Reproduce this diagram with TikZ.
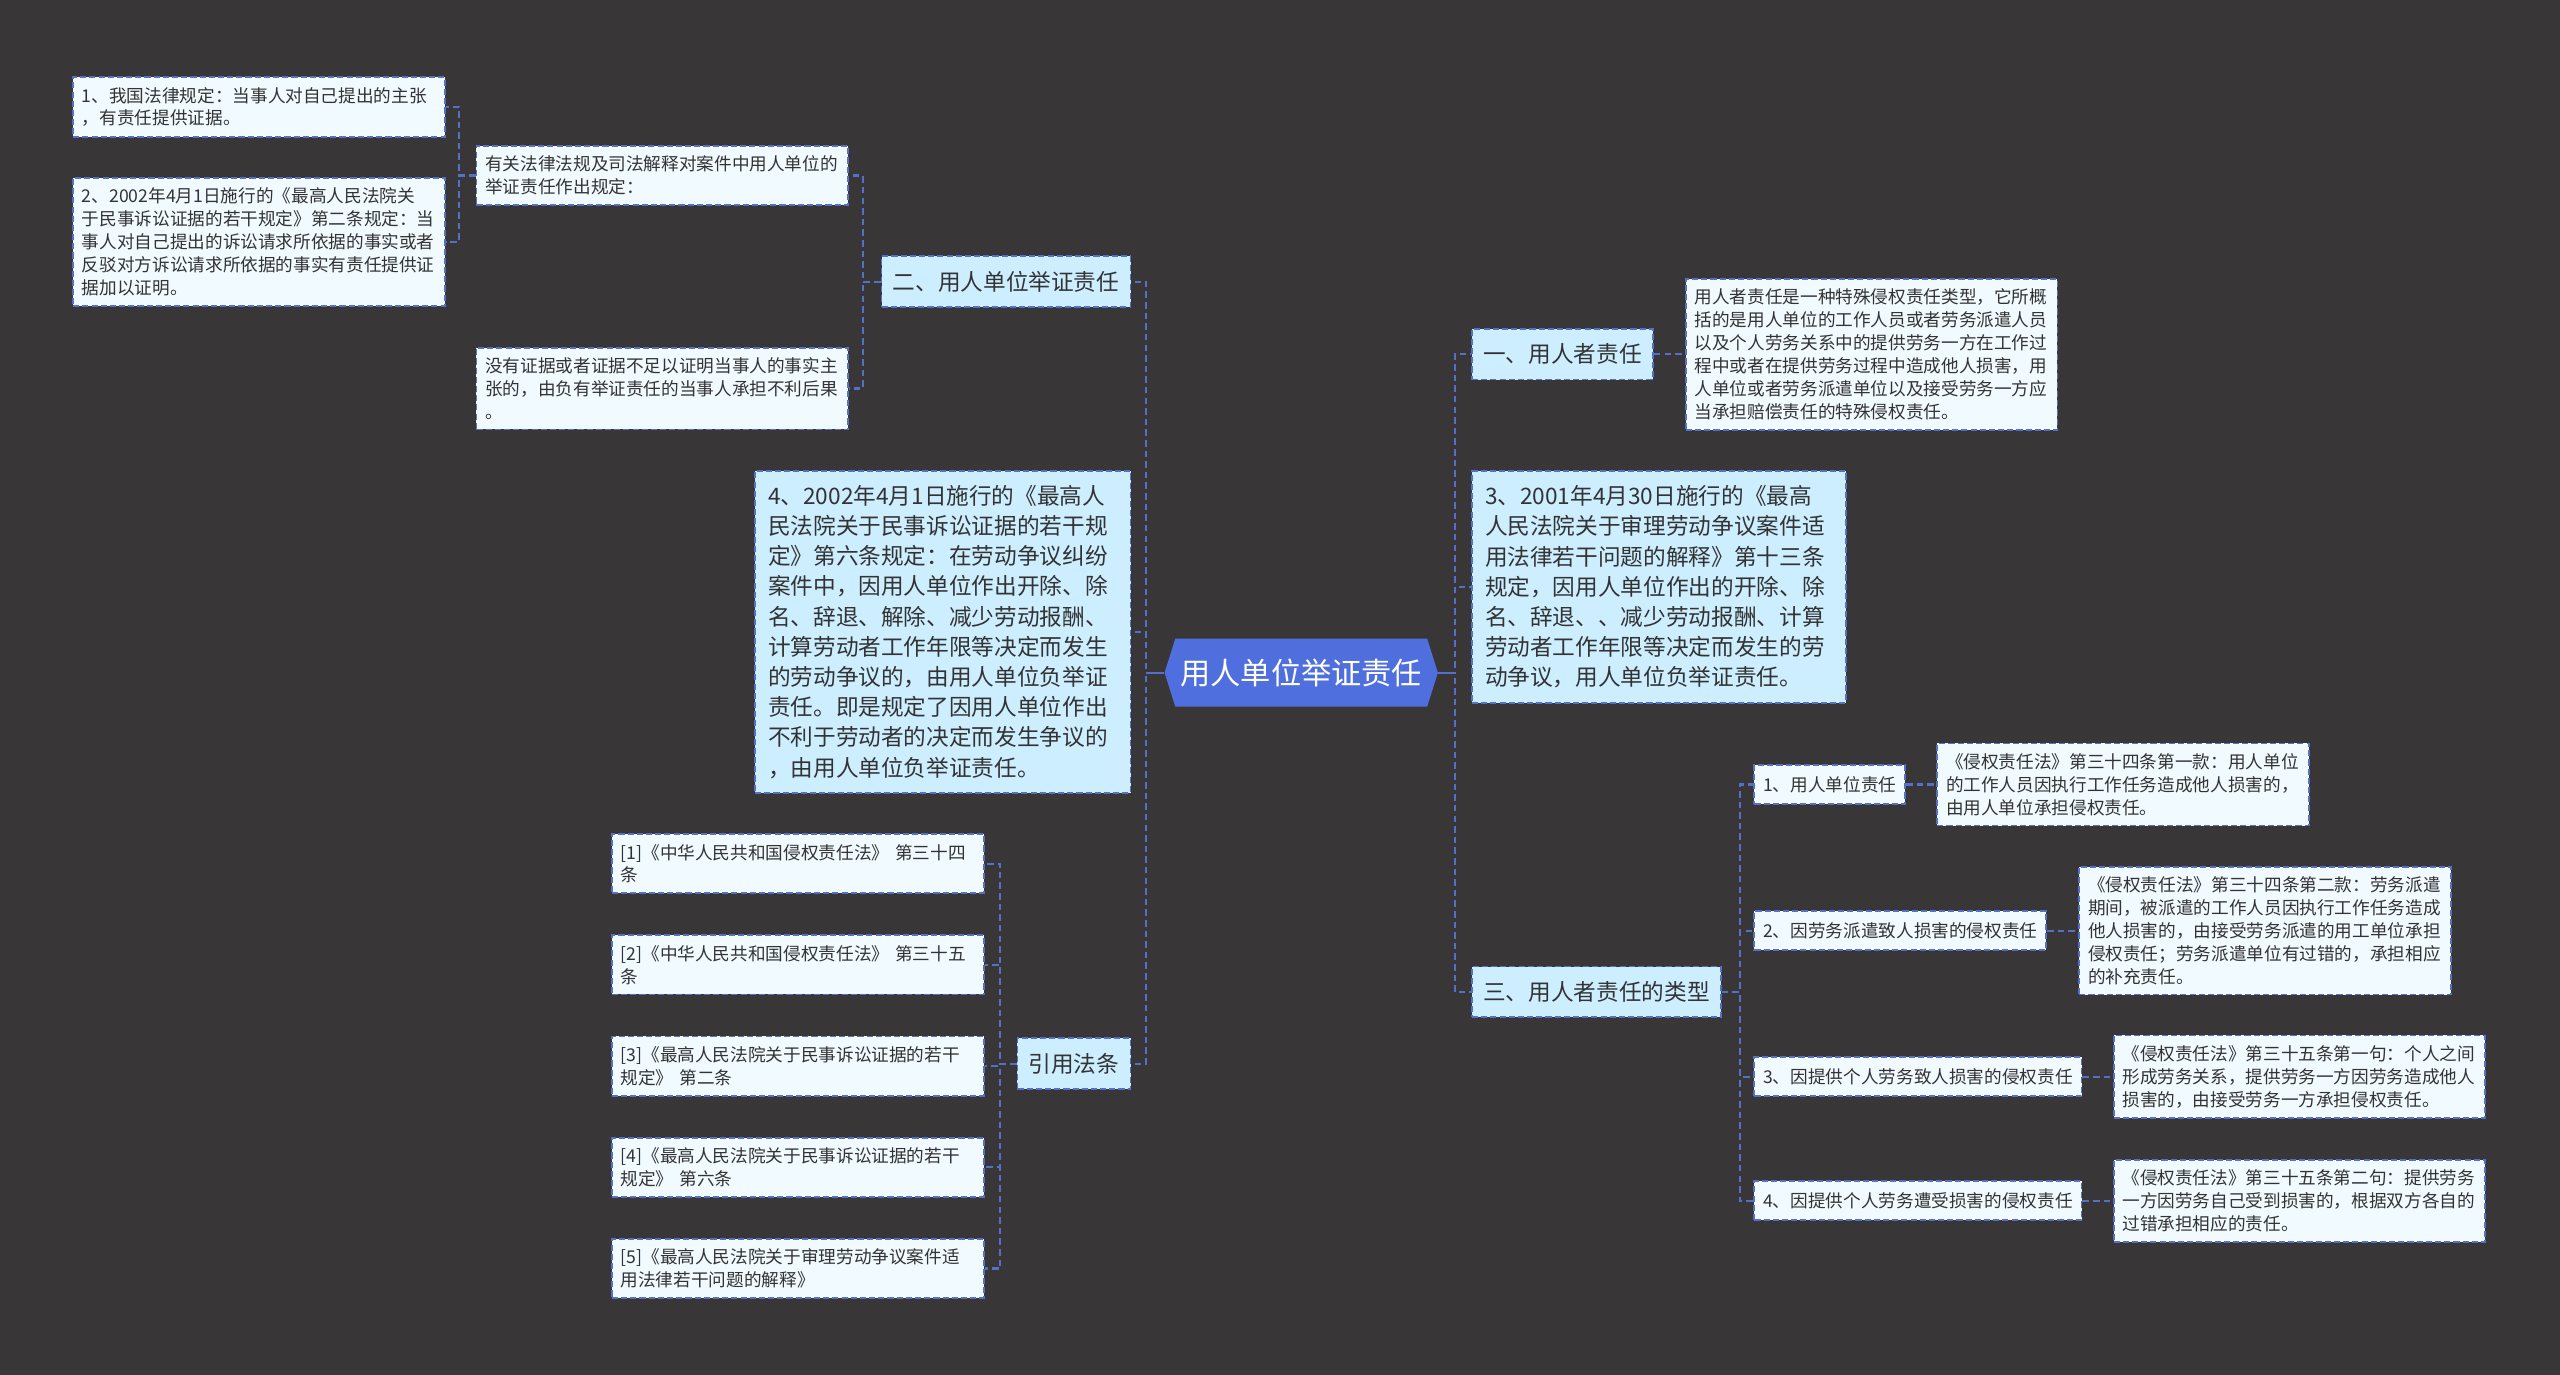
\documentclass[tikz,border=0pt]{standalone}
\usepackage{fontspec}
\setmainfont{Noto Sans CJK SC}
\usetikzlibrary{shapes.symbols}
\definecolor{bgc}{RGB}{57,54,55}
\definecolor{lineblue}{RGB}{84,112,200}
\definecolor{rootblue}{RGB}{79,111,222}
\definecolor{skyblue}{RGB}{204,238,255}
\definecolor{paleblue}{RGB}{240,250,255}
\definecolor{txt}{RGB}{51,51,51}
\begin{document}
\begin{tikzpicture}[
  x=0.8pt, y=-0.8pt,
  every node/.style={inner sep=0pt},
  line/.style={draw=lineblue, line width=1.1pt, dash pattern=on 3.2pt off 2pt},
  box/.style={draw=lineblue, line width=0.9pt, dash pattern=on 3pt off 1.5pt, text=txt},
  root/.style={signal, signal to=west and east, signal pointer angle=145,
    fill=rootblue, text=white, font=\fontsize{14.8pt}{16pt}\selectfont,
    inner xsep=2.5pt, inner ysep=9.8pt},
  hd/.style={box, fill=skyblue, font=\fontsize{11.1pt}{14.8pt}\selectfont,
    inner xsep=5.5pt, inner ysep=7.25pt},
  para/.style={hd, text width=#1, align=left, inner xsep=6.4pt, inner ysep=7pt},
  kid/.style={box, fill=paleblue, font=\fontsize{8.64pt}{11.2pt}\selectfont,
    inner xsep=4.3pt, inner ysep=5.5pt},
  fact/.style={box, fill=paleblue, font=\fontsize{8.64pt}{11.2pt}\selectfont,
    text width=173.5pt, align=left, inner xsep=4.3pt, inner ysep=4.9pt},
  fork/.style={to path={-- ++(#1,0) |- (\tikztotarget)}}
]
\path[use as bounding box, fill=bgc] (0,0) rectangle (1568,842);

\node[root] (R) at (797,412) {用人单位举证责任};

\node[hd, anchor=west] (A) at (901,217) {一、用人者责任};
\node[fact, anchor=west] (Aa) at (1032,217)
{用人者责任是一种特殊侵权责任类型，它所概\\括的是用人单位的工作人员或者劳务派遣人员\\以及个人劳务关系中的提供劳务一方在工作过\\程中或者在提供劳务过程中造成他人损害，用\\人单位或者劳务派遣单位以及接受劳务一方应\\当承担赔偿责任的特殊侵权责任。};
\node[para=170.4pt, anchor=west] (B) at (901,359.5)
{3、2001年4月30日施行的《最高\\人民法院关于审理劳动争议案件适\\用法律若干问题的解释》第十三条\\规定，因用人单位作出的开除、除\\名、辞退、、减少劳动报酬、计算\\劳动者工作年限等决定而发生的劳\\动争议，用人单位负举证责任。};
\node[hd, anchor=west] (T) at (901,607.5) {三、用人者责任的类型};

\node[kid, anchor=west] (T1) at (1074,480.5) {1、用人单位责任};
\node[fact, anchor=west] (T1a) at (1186,480.5)
{《侵权责任法》第三十四条第一款：用人单位\\的工作人员因执行工作任务造成他人损害的，\\由用人单位承担侵权责任。};
\node[kid, anchor=west] (T2) at (1074,570) {2、因劳务派遣致人损害的侵权责任};
\node[fact, anchor=west] (T2a) at (1273,570)
{《侵权责任法》第三十四条第二款：劳务派遣\\期间，被派遣的工作人员因执行工作任务造成\\他人损害的，由接受劳务派遣的用工单位承担\\侵权责任；劳务派遣单位有过错的，承担相应\\的补充责任。};
\node[kid, anchor=west] (T3) at (1074,659.5) {3、因提供个人劳务致人损害的侵权责任};
\node[fact, anchor=west] (T3a) at (1294,659.5)
{《侵权责任法》第三十五条第一句：个人之间\\形成劳务关系，提供劳务一方因劳务造成他人\\损害的，由接受劳务一方承担侵权责任。};
\node[kid, anchor=west] (T4) at (1074,735.5) {4、因提供个人劳务遭受损害的侵权责任};
\node[fact, anchor=west] (T4a) at (1294,735.5)
{《侵权责任法》第三十五条第二句：提供劳务\\一方因劳务自己受到损害的，根据双方各自的\\过错承担相应的责任。};

\node[hd, anchor=east] (E) at (693,172.5) {二、用人单位举证责任};
\node[fact, anchor=east] (Ea) at (520,107.5)
{有关法律法规及司法解释对案件中用人单位的\\举证责任作出规定：};
\node[fact, anchor=east] (Ea1) at (273,65.5)
{1、我国法律规定：当事人对自己提出的主张\\，有责任提供证据。};
\node[fact, anchor=east] (Ea2) at (273,148)
{2、2002年4月1日施行的《最高人民法院关\\于民事诉讼证据的若干规定》第二条规定：当\\事人对自己提出的诉讼请求所依据的事实或者\\反驳对方诉讼请求所依据的事实有责任提供证\\据加以证明。};
\node[fact, anchor=east] (Eb) at (520,238)
{没有证据或者证据不足以证明当事人的事实主\\张的，由负有举证责任的当事人承担不利后果\\。};
\node[para=171.2pt, anchor=east] (F) at (693,387)
{4、2002年4月1日施行的《最高人\\民法院关于民事诉讼证据的若干规\\定》第六条规定：在劳动争议纠纷\\案件中，因用人单位作出开除、除\\名、辞退、解除、减少劳动报酬、\\计算劳动者工作年限等决定而发生\\的劳动争议的，由用人单位负举证\\责任。即是规定了因用人单位作出\\不利于劳动者的决定而发生争议的\\，由用人单位负举证责任。};
\node[hd, anchor=east] (L) at (693,651.5) {引用法条};
\node[fact, anchor=east] (L1) at (603,529)
{[1]《中华人民共和国侵权责任法》 第三十四\\条};
\node[fact, anchor=east] (L2) at (603,591)
{[2]《中华人民共和国侵权责任法》 第三十五\\条};
\node[fact, anchor=east] (L3) at (603,653)
{[3]《最高人民法院关于民事诉讼证据的若干\\规定》 第二条};
\node[fact, anchor=east] (L4) at (603,715)
{[4]《最高人民法院关于民事诉讼证据的若干\\规定》 第六条};
\node[fact, anchor=east] (L5) at (603,777)
{[5]《最高人民法院关于审理劳动争议案件适\\用法律若干问题的解释》};

\draw[line] (R.east) to[fork=10] (A.west);
\draw[line] (R.east) to[fork=10] (B.west);
\draw[line] (R.east) to[fork=10] (T.west);
\draw[line, solid] (R.east) -- ++(10,0);
\draw[line] (A.east) -- (Aa.west);
\draw[line] (T.east) to[fork=11] (T1.west);
\draw[line] (T.east) to[fork=11] (T2.west);
\draw[line] (T.east) to[fork=11] (T3.west);
\draw[line] (T.east) to[fork=11] (T4.west);
\draw[line] (T1.east) -- (T1a.west);
\draw[line] (T2.east) -- (T2a.west);
\draw[line] (T3.east) -- (T3a.west);
\draw[line] (T4.east) -- (T4a.west);

\draw[line] (R.west) to[fork=-11] (E.east);
\draw[line] (R.west) to[fork=-11] (F.east);
\draw[line] (R.west) to[fork=-11] (L.east);
\draw[line, solid] (R.west) -- ++(-11,0);
\draw[line] (E.west) to[fork=-11] (Ea.east);
\draw[line] (E.west) to[fork=-11] (Eb.east);
\draw[line] (Ea.west) to[fork=-10] (Ea1.east);
\draw[line] (Ea.west) to[fork=-10] (Ea2.east);
\draw[line] (L.west) to[fork=-10] (L1.east);
\draw[line] (L.west) to[fork=-10] (L2.east);
\draw[line] (L.west) to[fork=-10] (L3.east);
\draw[line] (L.west) to[fork=-10] (L4.east);
\draw[line] (L.west) to[fork=-10] (L5.east);
\end{tikzpicture}
\end{document}
